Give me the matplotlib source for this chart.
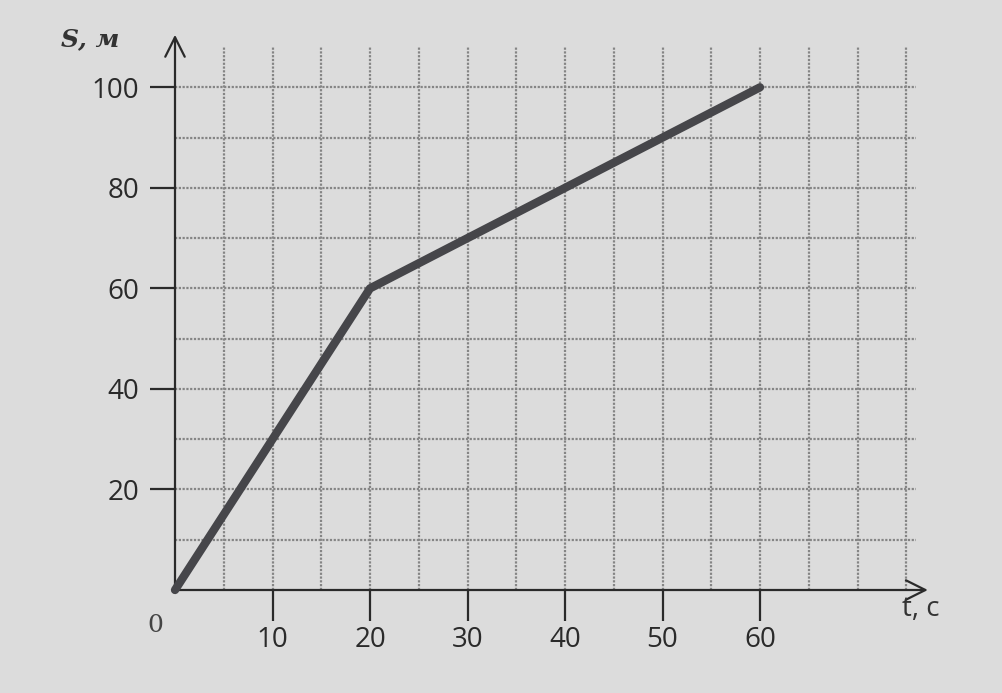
import matplotlib.pyplot as plt
import numpy as np

# path-time graph
t_pts = [0, 20, 60]
s_pts = [0, 60, 100]

x_ticks = [10, 20, 30, 40, 50, 60]
y_ticks = [20, 40, 60, 80, 100]
grid_x = np.arange(5, 80, 5)
grid_y = np.arange(10, 110, 10)

bg = '#dcdcdc'
fig = plt.figure(figsize=(10.02, 6.93), dpi=100, facecolor=bg)
W, H = 1002, 693
ax = fig.add_axes([175 / W, 103 / H, 780 / W, 563 / H])
ax.set_facecolor(bg)
ax.set_xlim(0, 80)
ax.set_ylim(0, 112)
for sp in ax.spines.values():
    sp.set_visible(False)

# grid
gs = dict(color='#858585', lw=1.6, ls=(0, (1, 0.7)), zorder=1)
ax.vlines(grid_x, 0, 108, **gs)
ax.hlines(grid_y, 0, 76, **gs)

# axes with arrows
ap = dict(arrowstyle='->', lw=1.6, color='#2a2a2a', mutation_scale=35)
ax.annotate('', xy=(77.5, 0), xytext=(0, 0), arrowprops=ap, annotation_clip=False, zorder=3)
ax.annotate('', xy=(0, 111), xytext=(0, 0), arrowprops=ap, annotation_clip=False, zorder=3)

# the graph
ax.plot(t_pts, s_pts, color='#46464a', lw=6, solid_capstyle='round',
        solid_joinstyle='round', zorder=4, clip_on=False)

ax.set_xticks(x_ticks)
ax.set_yticks(y_ticks)
ax.tick_params(axis='x', length=22, width=1.6, color='#2a2a2a', pad=4,
               labelsize=20, labelcolor='#2a2a2a')
ax.tick_params(axis='y', length=18, width=1.6, color='#2a2a2a', pad=8,
               labelsize=20, labelcolor='#2a2a2a')
for lab in ax.get_xticklabels() + ax.get_yticklabels():
    lab.set_fontfamily('Open Sans')

ax.text(-2, -7, '0', fontsize=18, family='DejaVu Serif', color='#444444',
        ha='center', va='center')
ax.text(-8.7, 109.5, 'S, м', fontsize=18, family='DejaVu Serif', style='italic',
        weight='bold', color='#333333', ha='center', va='center')
ax.text(76.5, -3.8, 't, c', fontsize=20, family='Open Sans', color='#333333',
        ha='center', va='center')

fig.savefig('out.png', dpi=100, facecolor=bg)
